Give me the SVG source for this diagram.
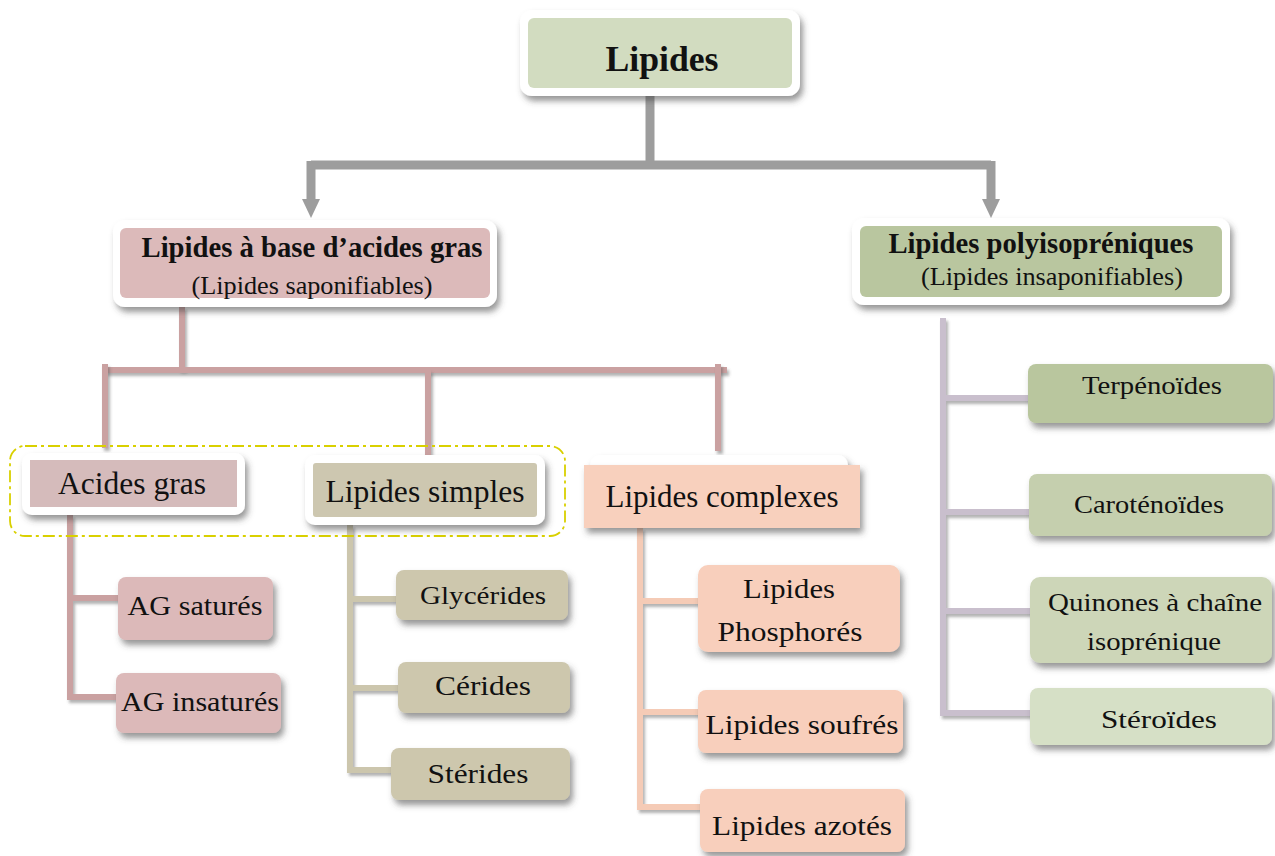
<svg xmlns="http://www.w3.org/2000/svg" width="1275" height="856" viewBox="0 0 1275 856">
<style>
text{font-family:"Liberation Serif","Times New Roman",serif;fill:#111;text-anchor:middle}
.b{font-weight:bold}
.outer{fill:#fff;filter:url(#sh)}
.g{stroke:#9d9d9d;stroke-width:9;fill:none}
.p{stroke:#caa1a1;stroke-width:6;fill:none;filter:url(#ls)}
.t{stroke:#ccc6ad;stroke-width:6;fill:none;filter:url(#ls)}
.o{stroke:#f5cbb6;stroke-width:6;fill:none;filter:url(#ls)}
.v{stroke:#c9bfcd;stroke-width:6;fill:none;filter:url(#ls)}
.box{filter:url(#sh)}
</style>
<defs>
<filter id="sh" x="-10%" y="-20%" width="125%" height="150%">
<feDropShadow dx="3" dy="5" stdDeviation="3" flood-color="#444" flood-opacity="0.55"/>
</filter>
<filter id="ls" filterUnits="userSpaceOnUse" x="0" y="0" width="1275" height="856">
<feDropShadow dx="2" dy="3" stdDeviation="1.5" flood-color="#555" flood-opacity="0.45"/>
</filter>
</defs>

<g id="connectors">
<path class="g" d="M650,96 V165"/>
<path class="g" d="M311,165 H991"/>
<path class="g" d="M311,161 V202"/>
<path class="g" d="M991,161 V202"/>
<polygon points="302,199 320,199 311,218" fill="#9d9d9d"/>
<polygon points="982,199 1000,199 991,218" fill="#9d9d9d"/>
<path class="p" d="M182,307 V370"/>
<path class="p" d="M105,370 H727"/>
<path class="p" d="M105,364 V448"/>
<path class="p" d="M428,370 V456"/>
<path class="p" d="M718,364 V451"/>
<path class="p" d="M70,515 V697 H116 M70,598 H118"/>
<path class="t" d="M350,525 V770 H392 M350,599 H396 M350,688 H398"/>
<path class="o" d="M640,528 V807 H700 M640,601 H699 M640,712 H699"/>
<path class="v" d="M943,318 V713 H1031 M943,398 H1029 M943,512 H1030 M943,611 H1031"/>
<rect x="10" y="446" width="555" height="90" rx="15" fill="none" stroke="#d9d000" stroke-width="1.8" stroke-dasharray="12,4,3,4"/>
</g>

<g id="lipides">
<rect class="outer" x="520" y="10" width="280" height="86" rx="12"/>
<rect x="528" y="18" width="264" height="70" rx="6" fill="#d2dcc0"/>
<text class="b" x="662" y="71" font-size="36" textLength="113" lengthAdjust="spacingAndGlyphs">Lipides</text>
</g>

<g id="acides-gras-base">
<rect class="outer" x="113" y="220" width="384" height="87" rx="12"/>
<rect x="120" y="228" width="370" height="70" rx="6" fill="#dcbaba"/>
<text class="b" x="312" y="257" font-size="30" textLength="341" lengthAdjust="spacingAndGlyphs">Lipides à base d’acides gras</text>
<text x="312" y="294" font-size="26" textLength="241" lengthAdjust="spacingAndGlyphs">(Lipides saponifiables)</text>
</g>

<g id="polyisopreniques">
<rect class="outer" x="852" y="218" width="378" height="87" rx="12"/>
<rect x="860" y="226" width="362" height="71" rx="6" fill="#b9c69f"/>
<text class="b" x="1041" y="253" font-size="30" textLength="305" lengthAdjust="spacingAndGlyphs">Lipides polyisopréniques</text>
<text x="1052" y="285" font-size="26" textLength="262" lengthAdjust="spacingAndGlyphs">(Lipides insaponifiables)</text>
</g>

<g id="acides-gras">
<rect class="outer" x="22" y="453" width="223" height="62" rx="10"/>
<rect x="30" y="460" width="207" height="47" fill="#d5bbbb"/>
<text x="132" y="494" font-size="31" textLength="148" lengthAdjust="spacingAndGlyphs">Acides gras</text>
</g>

<g id="lipides-simples">
<rect class="outer" x="305" y="455" width="240" height="70" rx="10"/>
<rect x="313" y="463" width="224" height="54" rx="3" fill="#cdc7b0"/>
<text x="425" y="502" font-size="31" textLength="199" lengthAdjust="spacingAndGlyphs">Lipides simples</text>
</g>

<g id="lipides-complexes">
<rect class="outer" x="590" y="455" width="258" height="60" rx="10"/>
<rect class="box" x="584" y="465" width="276" height="63" fill="#f8d0bd"/>
<text x="722" y="507" font-size="31" textLength="233" lengthAdjust="spacingAndGlyphs">Lipides complexes</text>
</g>

<g id="ag-satures">
<rect class="box" x="118" y="577" width="155" height="63" rx="8" fill="#dcb9b9"/>
<text x="195" y="615" font-size="27" textLength="135" lengthAdjust="spacingAndGlyphs">AG saturés</text>
</g>
<g id="ag-insatures">
<rect class="box" x="116" y="673" width="165" height="60" rx="8" fill="#dcb9b9"/>
<text x="200" y="711" font-size="27" textLength="158" lengthAdjust="spacingAndGlyphs">AG insaturés</text>
</g>

<g id="glycerides">
<rect class="box" x="396" y="570" width="172" height="50" rx="8" fill="#cdc7ad"/>
<text x="483" y="604" font-size="25" textLength="126" lengthAdjust="spacingAndGlyphs">Glycérides</text>
</g>
<g id="cerides">
<rect class="box" x="398" y="662" width="172" height="51" rx="8" fill="#cdc7ad"/>
<text x="483" y="695" font-size="27" textLength="96" lengthAdjust="spacingAndGlyphs">Cérides</text>
</g>
<g id="sterides">
<rect class="box" x="391" y="748" width="179" height="52" rx="8" fill="#cdc7ad"/>
<text x="478" y="783" font-size="27" textLength="101" lengthAdjust="spacingAndGlyphs">Stérides</text>
</g>

<g id="phosphores">
<rect class="box" x="698" y="565" width="202" height="87" rx="10" fill="#f8cfbc"/>
<text x="789" y="598" font-size="28" textLength="92" lengthAdjust="spacingAndGlyphs">Lipides</text>
<text x="790" y="641" font-size="28" textLength="145" lengthAdjust="spacingAndGlyphs">Phosphorés</text>
</g>
<g id="soufres">
<rect class="box" x="698" y="690" width="205" height="63" rx="8" fill="#f8cfbc"/>
<text x="802" y="734" font-size="28" textLength="193" lengthAdjust="spacingAndGlyphs">Lipides soufrés</text>
</g>
<g id="azotes">
<rect class="box" x="700" y="789" width="205" height="63" rx="8" fill="#f8cfbc"/>
<text x="802" y="835" font-size="28" textLength="180" lengthAdjust="spacingAndGlyphs">Lipides azotés</text>
</g>

<g id="terpenoides">
<rect class="box" x="1028" y="364" width="245" height="59" rx="8" fill="#b9c69e"/>
<text x="1152" y="394" font-size="26" textLength="140" lengthAdjust="spacingAndGlyphs">Terpénoïdes</text>
</g>
<g id="carotenoides">
<rect class="box" x="1029" y="474" width="243" height="62" rx="8" fill="#c5cfae"/>
<text x="1149" y="513" font-size="26" textLength="150" lengthAdjust="spacingAndGlyphs">Caroténoïdes</text>
</g>
<g id="quinones">
<rect class="box" x="1030" y="577" width="242" height="86" rx="10" fill="#cdd6b8"/>
<text x="1155" y="611" font-size="26" textLength="214" lengthAdjust="spacingAndGlyphs">Quinones à chaîne</text>
<text x="1154" y="650" font-size="26" textLength="134" lengthAdjust="spacingAndGlyphs">isoprénique</text>
</g>
<g id="steroides">
<rect class="box" x="1030" y="688" width="242" height="57" rx="8" fill="#d6e0c6"/>
<text x="1159" y="728" font-size="26" textLength="116" lengthAdjust="spacingAndGlyphs">Stéroïdes</text>
</g>
</svg>
